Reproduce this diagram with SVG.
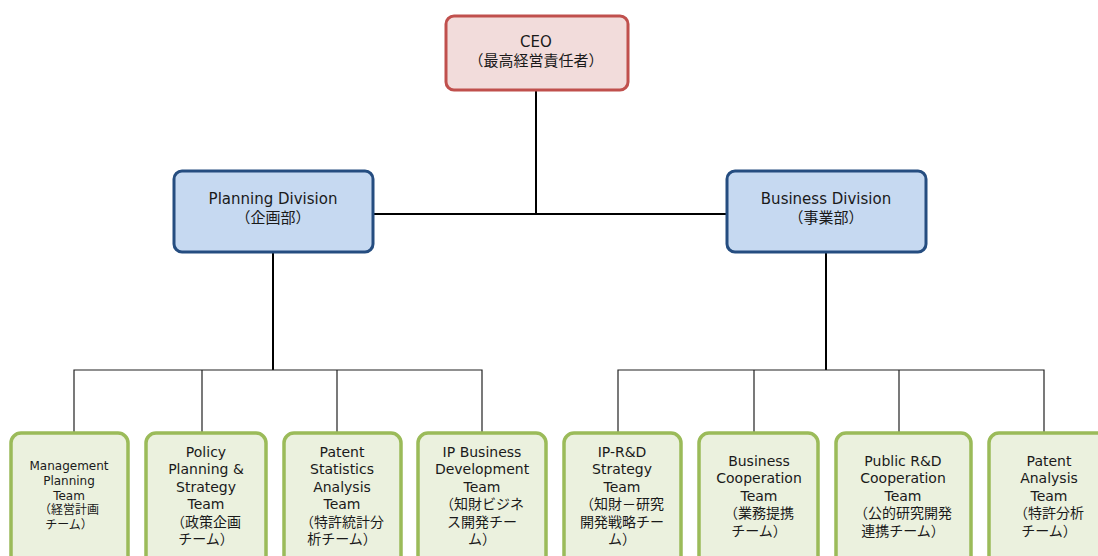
<svg xmlns="http://www.w3.org/2000/svg" width="1098" height="556" viewBox="0 0 1098 556">
  <style>
    text { font-family: "DejaVu Sans", "Noto Sans CJK JP", sans-serif; fill: #1a1a1a; text-anchor: middle; }
    .big { font-size: 15px; }
    .team { font-size: 14px; }
    .small { font-size: 12px; }
    .ceo { fill: #F2DCDB; stroke: #C0504D; stroke-width: 3; }
    .div { fill: #C6D9F1; stroke: #254D80; stroke-width: 3; }
    .tm { fill: #EBF1DE; stroke: #9BBB59; stroke-width: 3.5; }
    .trunk { stroke: #000; stroke-width: 2; fill: none; }
    .branch { stroke: #222; stroke-width: 1.2; fill: none; }
  </style>

  <!-- connectors -->
  <g id="connectors">
    <line class="trunk" x1="536" y1="90" x2="536" y2="214"/>
    <line class="trunk" x1="374" y1="214" x2="726" y2="214"/>
    <line class="trunk" x1="273" y1="252" x2="273" y2="370"/>
    <line class="trunk" x1="826" y1="252" x2="826" y2="370"/>
    <path class="branch" d="M74 433 V370 H482 V433 M202 370 V433 M337 370 V433"/>
    <path class="branch" d="M618 433 V370 H1044 V433 M754 370 V433 M899 370 V433"/>
  </g>

  <g id="ceo">
    <rect class="ceo" x="446" y="16" width="182" height="74" rx="8"/>
    <text class="big" x="536" y="47">CEO</text>
    <text class="big" x="536" y="66">（最高経営責任者）</text>
  </g>

  <g id="planning-division">
    <rect class="div" x="174" y="171" width="199" height="81" rx="8"/>
    <text class="big" x="273" y="204">Planning Division</text>
    <text class="big" x="273" y="223">（企画部）</text>
  </g>

  <g id="business-division">
    <rect class="div" x="727" y="171" width="199" height="81" rx="8"/>
    <text class="big" x="826" y="204">Business Division</text>
    <text class="big" x="826" y="223">（事業部）</text>
  </g>

  <g id="team-management-planning">
    <rect class="tm" x="11" y="433" width="117" height="150" rx="10"/>
    <text class="small" x="69" y="470">Management<tspan x="69" dy="15">Planning</tspan><tspan x="69" dy="15">Team</tspan><tspan x="69" dy="14">（経営計画</tspan><tspan x="69" dy="15">チーム）</tspan></text>
  </g>

  <g id="team-policy-planning">
    <rect class="tm" x="146" y="433" width="120" height="150" rx="10"/>
    <text class="team" x="206" y="457">Policy<tspan x="206" dy="17.4">Planning &amp;</tspan><tspan x="206" dy="17.4">Strategy</tspan><tspan x="206" dy="17.4">Team</tspan><tspan x="206" dy="17.4">（政策企画</tspan><tspan x="206" dy="17.4">チーム）</tspan></text>
  </g>

  <g id="team-patent-statistics">
    <rect class="tm" x="284" y="433" width="117" height="150" rx="10"/>
    <text class="team" x="342" y="457">Patent<tspan x="342" dy="17.4">Statistics</tspan><tspan x="342" dy="17.4">Analysis</tspan><tspan x="342" dy="17.4">Team</tspan><tspan x="342" dy="17.4">（特許統計分</tspan><tspan x="342" dy="17.4">析チーム）</tspan></text>
  </g>

  <g id="team-ip-business-development">
    <rect class="tm" x="418" y="433" width="128" height="150" rx="10"/>
    <text class="team" x="482" y="457">IP Business<tspan x="482" dy="17.4">Development</tspan><tspan x="482" dy="17.4">Team</tspan><tspan x="482" dy="17.4">（知財ビジネ</tspan><tspan x="482" dy="17.4">ス開発チー</tspan><tspan x="482" dy="17.4">ム）</tspan></text>
  </g>

  <g id="team-ip-rd-strategy">
    <rect class="tm" x="564" y="433" width="117" height="150" rx="10"/>
    <text class="team" x="622" y="457">IP-R&amp;D<tspan x="622" dy="17.4">Strategy</tspan><tspan x="622" dy="17.4">Team</tspan><tspan x="622" dy="17.4">（知財－研究</tspan><tspan x="622" dy="17.4">開発戦略チー</tspan><tspan x="622" dy="17.4">ム）</tspan></text>
  </g>

  <g id="team-business-cooperation">
    <rect class="tm" x="699" y="433" width="119" height="150" rx="10"/>
    <text class="team" x="759" y="466">Business<tspan x="759" dy="17.4">Cooperation</tspan><tspan x="759" dy="17.4">Team</tspan><tspan x="759" dy="17.4">（業務提携</tspan><tspan x="759" dy="17.4">チーム）</tspan></text>
  </g>

  <g id="team-public-rd-cooperation">
    <rect class="tm" x="836" y="433" width="135" height="150" rx="10"/>
    <text class="team" x="903" y="466">Public R&amp;D<tspan x="903" dy="17.4">Cooperation</tspan><tspan x="903" dy="17.4">Team</tspan><tspan x="903" dy="17.4">（公的研究開発</tspan><tspan x="903" dy="17.4">連携チーム）</tspan></text>
  </g>

  <g id="team-patent-analysis">
    <rect class="tm" x="989" y="433" width="120" height="150" rx="10"/>
    <text class="team" x="1049" y="466">Patent<tspan x="1049" dy="17.4">Analysis</tspan><tspan x="1049" dy="17.4">Team</tspan><tspan x="1049" dy="17.4">（特許分析</tspan><tspan x="1049" dy="17.4">チーム）</tspan></text>
  </g>
</svg>
